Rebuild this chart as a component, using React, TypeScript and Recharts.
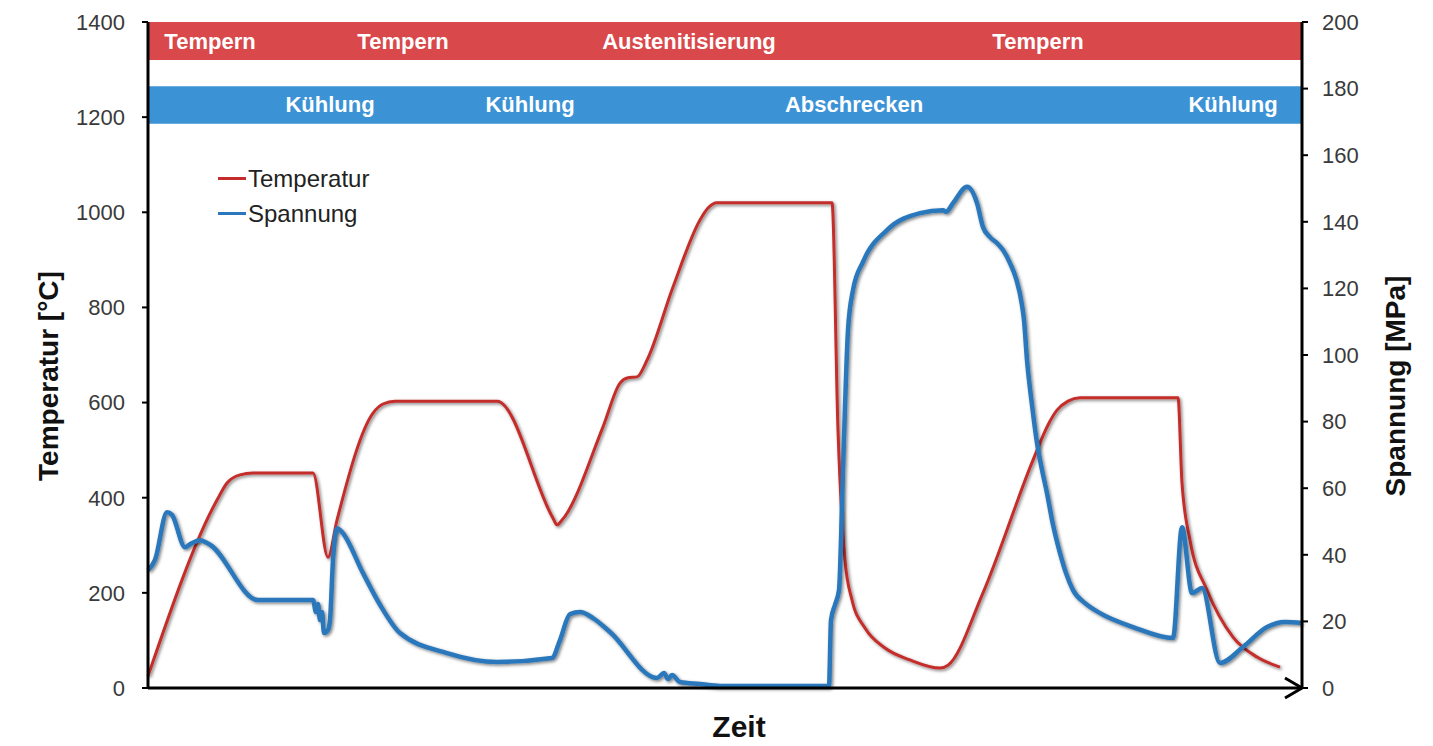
import React from 'react';
import {
  LineChart, Line, XAxis, YAxis, ReferenceArea, ReferenceDot, Legend,
} from 'recharts';

// time in arbitrary units along "Zeit"
const tempTime = [0, 69, 79, 92, 105, 165, 180, 189, 225, 235, 247, 349, 405, 409, 414, 455, 472, 480, 489, 499, 525, 552, 560, 569, 684, 690, 697, 704, 717, 737, 762, 792, 800, 835, 885, 900, 909, 920, 932, 1030, 1034, 1042, 1059, 1085, 1109, 1132];
const tempValues = [25, 395, 431, 448, 452, 452, 275, 353, 578, 597, 603, 603, 357, 343, 353, 549, 641, 652, 654, 689, 843, 984, 1009, 1020, 1020, 542, 269, 185, 126, 84, 59, 42, 48, 200, 479, 553, 584, 603, 610, 610, 431, 311, 206, 107, 65, 44];

const stressTime = [0, 7, 19, 24, 37, 42, 52, 62, 110, 165, 168, 170, 172, 174, 176, 180, 182, 185, 189, 194, 215, 232, 252, 299, 349, 404, 412, 422, 432, 445, 462, 509, 516, 520, 524, 532, 552, 572, 681, 683, 687, 691, 695, 700, 705, 715, 739, 772, 795, 798, 805, 819, 829, 835, 842, 849, 855, 862, 868, 874, 876, 879, 884, 889, 894, 899, 905, 912, 918, 925, 937, 952, 985, 1025, 1034, 1044, 1054, 1072, 1095, 1119, 1137, 1154];
const stressValues = [35.4, 38.5, 52.8, 52, 42.3, 43.2, 44.4, 43, 26.4, 26.4, 22.8, 25.2, 20.4, 22.8, 16.5, 17.4, 20.4, 38.4, 48, 46.8, 34.5, 25, 16.5, 10.5, 7.8, 9, 14.4, 22.2, 22.8, 21, 16.8, 3, 4.5, 2.7, 3.9, 1.8, 1.2, 0.6, 0.6, 20.4, 25, 29.4, 65.5, 107.5, 119.5, 128, 137.5, 142.6, 143.5, 143, 145.6, 150.5, 145.6, 138.4, 135.4, 133.6, 131.5, 127.6, 123, 115, 110.5, 98.5, 85, 73.6, 65.5, 58.5, 49, 40.5, 34.5, 29.4, 25.5, 22.5, 18.3, 15, 48.3, 28.5, 30, 7.5, 12.3, 18.3, 19.8, 19.5];

const leftTicks = [0, 200, 400, 600, 800, 1000, 1200, 1400];
const rightTicks = [0, 20, 40, 60, 80, 100, 120, 140, 160, 180, 200];

const phaseTopLabels = ['Tempern', 'Tempern', 'Austenitisierung', 'Tempern'];
const phaseTopTime = [62, 255, 541, 890];
const phaseBottomLabels = ['Kühlung', 'Kühlung', 'Abschrecken', 'Kühlung'];
const phaseBottomTime = [182, 382, 706, 1085];

const legendOrder = ['Temperatur', 'Spannung'];

const tempData = tempTime.map((t, i) => ({ t, v: tempValues[i] }));
const stressData = stressTime.map((t, i) => ({ t, v: stressValues[i] }));

const FONT = '"Liberation Sans", Arial, sans-serif';
const RED = '#c42d2b';
const BLUE = '#2a78bb';
const BAND_RED = '#d9484a';
const BAND_BLUE = '#3b93d6';
const T_MAX = 1154;

const bandText = (label: string) => (p: any) => (
  <text x={p.cx} y={p.cy} textAnchor="middle" dominantBaseline="central"
    fill="#ffffff" fontFamily={FONT} fontWeight="bold" fontSize={22}>{label}</text>
);

const arrowShape = (p: any) => (
  <path d={`M ${p.cx - 17} ${p.cy - 10} L ${p.cx} ${p.cy} L ${p.cx - 17} ${p.cy + 10}`}
    stroke="#000" strokeWidth={3} fill="none" strokeLinejoin="miter" />
);

const renderLegend = (props: any) => {
  const payload = [...(props.payload || [])].sort(
    (a: any, b: any) => legendOrder.indexOf(a.value) - legendOrder.indexOf(b.value),
  );
  return (
    <div style={{ fontFamily: FONT, fontSize: 24, color: '#222' }}>
      {payload.map((e: any) => (
        <div key={e.value} style={{ display: 'flex', alignItems: 'center', height: 35 }}>
          <span style={{ display: 'inline-block', width: 28, height: 3, background: e.color, marginRight: 2 }} />
          <span>{e.value}</span>
        </div>
      ))}
    </div>
  );
};

export default function App() {
  return (
    <div style={{ position: 'absolute', left: 0, top: 0, width: 1433, height: 746, background: '#fff' }}>
      <svg width="0" height="0" style={{ position: 'absolute' }}>
        <defs>
          <filter id="lineShadow" x="-10%" y="-10%" width="120%" height="120%">
            <feDropShadow dx="1.5" dy="1.5" stdDeviation="1.8" floodColor="#000" floodOpacity="0.5" />
          </filter>
        </defs>
      </svg>
      <LineChart width={1433} height={746} margin={{ top: 22, right: 11, bottom: 8, left: 20 }}>
        <XAxis type="number" dataKey="t" domain={[0, T_MAX]} tick={false} tickLine={false}
          axisLine={{ stroke: '#000', strokeWidth: 3 }} height={50}
          label={{
            content: (p: any) => {
              const vb = p.viewBox || { x: 148, y: 688, width: 1154, height: 50 };
              return (
                <text x={vb.x + vb.width / 2 + 14} y={737} textAnchor="middle"
                  fontFamily={FONT} fontWeight="bold" fontSize={30} fill="#111">Zeit</text>
              );
            },
          }} />
        <YAxis yAxisId="left" domain={[0, 1400]} ticks={leftTicks} width={128}
          axisLine={{ stroke: '#000', strokeWidth: 3 }} tickLine={{ stroke: '#000', strokeWidth: 2 }}
          tickSize={6} tickMargin={17}
          tick={{ fill: '#3a3a3a', fontSize: 22, fontFamily: FONT }}
          label={{
            content: (p: any) => {
              const vb = p.viewBox || { x: 20, y: 22, width: 128, height: 666 };
              const x = vb.x + 28;
              const y = 376;
              return (
                <text x={x} y={y} textAnchor="middle" dominantBaseline="central"
                  transform={`rotate(-90, ${x}, ${y})`} fontFamily={FONT} fontWeight="bold"
                  fontSize={28} fill="#111">Temperatur [°C]</text>
              );
            },
          }} />
        <YAxis yAxisId="right" orientation="right" domain={[0, 200]} ticks={rightTicks} width={120}
          axisLine={{ stroke: '#000', strokeWidth: 3 }} tickLine={{ stroke: '#000', strokeWidth: 2 }}
          tickSize={6} tickMargin={14}
          tick={{ fill: '#3a3a3a', fontSize: 22, fontFamily: FONT }}
          label={{
            content: (p: any) => {
              const vb = p.viewBox || { x: 1302, y: 22, width: 120, height: 666 };
              const x = vb.x + 93;
              const y = 386;
              return (
                <text x={x} y={y} textAnchor="middle" dominantBaseline="central"
                  transform={`rotate(-90, ${x}, ${y})`} fontFamily={FONT} fontWeight="bold"
                  fontSize={28} fill="#111">Spannung [MPa]</text>
              );
            },
          }} />

        <ReferenceArea yAxisId="left" x1={0} x2={T_MAX} y1={1320} y2={1400} fill={BAND_RED} fillOpacity={1} stroke="none" />
        <ReferenceArea yAxisId="left" x1={0} x2={T_MAX} y1={1186} y2={1265} fill={BAND_BLUE} fillOpacity={1} stroke="none" />
        {phaseTopLabels.map((l, i) => (
          <ReferenceDot key={'top' + i} yAxisId="left" x={phaseTopTime[i]} y={1360} r={0}
            ifOverflow="visible" shape={bandText(l)} />
        ))}
        {phaseBottomLabels.map((l, i) => (
          <ReferenceDot key={'bot' + i} yAxisId="left" x={phaseBottomTime[i]} y={1226} r={0}
            ifOverflow="visible" shape={bandText(l)} />
        ))}

        <Line yAxisId="left" data={tempData} dataKey="v" name="Temperatur" type="monotone"
          stroke={RED} strokeWidth={3} dot={false} activeDot={false} isAnimationActive={false}
          strokeLinejoin="round" filter="url(#lineShadow)" />
        <Line yAxisId="right" data={stressData} dataKey="v" name="Spannung" type="monotone"
          stroke={BLUE} strokeWidth={4.5} dot={false} activeDot={false} isAnimationActive={false}
          strokeLinejoin="round" filter="url(#lineShadow)" />

        <ReferenceDot yAxisId="left" x={T_MAX} y={0} r={0} ifOverflow="visible" shape={arrowShape} />

        <Legend layout="vertical" align="center" verticalAlign="middle" content={renderLegend}
          wrapperStyle={{ position: 'absolute', left: 218, top: 161, width: 220, height: 70 }} />
      </LineChart>
    </div>
  );
}
